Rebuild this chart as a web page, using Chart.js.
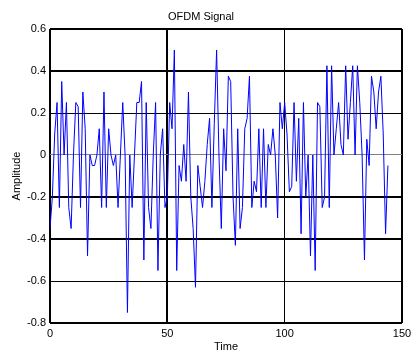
<!DOCTYPE html>
<html lang="en">
<head>
    <meta charset="UTF-8">
    <title>OFDM Signal</title>
    <script src="https://cdn.jsdelivr.net/npm/chart.js"></script>
    <style>
        body {
            margin: 0;
            padding: 0;
            background-color: #ffffff;
        }
        canvas {
            display: block;
        }
    </style>
</head>
<body>

<canvas id="grafico" width="411" height="351"></canvas>

<script>
    // Amplitud de la señal OFDM, una muestra por instante (t = 0..144)
    const amplitud = [
        -0.35, -0.2, 0.1, 0.25, -0.25, 0.35, 0, 0.25, -0.25, -0.35,
        0, 0.25, 0.23, -0.25, 0.3, 0.125, -0.48, 0, -0.05, -0.05,
        0, 0.125, -0.25, 0.3, -0.25, 0.125, 0, -0.05, 0, -0.25,
        0, 0.25, 0, -0.75, 0, -0.25, 0, 0.25, 0.25, 0.35,
        -0.5, 0.25, -0.25, -0.35, 0, 0.25, -0.55, 0, 0.125, -0.25,
        -0.2, 0.25, 0.125, 0.5, -0.55, -0.05, -0.125, 0.05, -0.125, 0.3,
        -0.2, -0.35, -0.63, -0.05, -0.15, -0.25, -0.125, 0.05, 0.175, -0.25,
        0.15, 0.5, 0, -0.35, 0.125, -0.075, 0.375, 0.35, -0.2, -0.43,
        0.125, -0.35, -0.25, 0.125, 0.175, 0.375, -0.25, -0.125, -0.175, 0.125,
        -0.25, 0.125, -0.25, 0.05, 0, 0.125, 0, -0.3, 0.25, 0.125,
        0.25, 0.1, -0.175, -0.15, 0.25, -0.125, 0.175, -0.375, 0.25, -0.2,
        0, -0.48, 0, -0.55, 0.25, 0.23, -0.25, -0.2, 0.425, -0.25,
        0.425, 0, 0.125, 0.25, 0.05, 0, 0.425, 0.075, 0.25, 0.425,
        0, 0.425, 0.25, 0, -0.5, 0.075, -0.05, 0.375, 0.3, 0.125,
        0.3, 0.375, 0.1, -0.375, -0.05
    ];
    const tiempo = amplitud.map((v, i) => i);

    const ticksX = [0, 50, 100, 150];
    const ticksY = [-0.8, -0.6, -0.4, -0.2, 0, 0.2, 0.4, 0.6];
    const lineasGruesasX = [0, 50, 150];
    const lineasGruesasY = [-0.8, -0.4, -0.2, 0.4, 0.6];

    const fuente = { family: 'Arial, "Liberation Sans", sans-serif', size: 11 };

    function esGruesa(lista, valor) {
        return lista.some(v => Math.abs(v - valor) < 1e-6);
    }

    const ctx = document.getElementById('grafico').getContext('2d');
    new Chart(ctx, {
        type: 'line',
        data: {
            labels: tiempo,
            datasets: [{
                data: amplitud.map((v, i) => ({ x: tiempo[i], y: v })),
                borderColor: '#0000ff',
                borderWidth: 1,
                pointRadius: 0,
                tension: 0,
                fill: false
            }]
        },
        options: {
            responsive: false,
            animation: false,
            layout: { padding: { top: 0, right: 9, left: 0, bottom: 0 } },
            plugins: {
                legend: { display: false },
                tooltip: { enabled: false },
                title: {
                    display: true,
                    text: 'OFDM Signal',
                    color: '#000000',
                    font: { family: fuente.family, size: 11, weight: 'normal' },
                    padding: { top: 10, bottom: 5.8 }
                }
            },
            scales: {
                x: {
                    type: 'linear',
                    min: 0,
                    max: 150,
                    afterBuildTicks: s => { s.ticks = ticksX.map(v => ({ value: v })); },
                    afterFit: s => { s.height = 28; s.paddingLeft = 0; s.paddingRight = 0; },
                    border: { display: false },
                    grid: {
                        drawTicks: false,
                        color: '#000000',
                        lineWidth: c => esGruesa(lineasGruesasX, c.tick.value) ? 2 : 1
                    },
                    ticks: { color: '#000000', font: fuente, padding: 4, maxRotation: 0 },
                    title: {
                        display: true,
                        text: 'Time',
                        color: '#000000',
                        font: { family: fuente.family, size: 11, lineHeight: 0.8 },
                        padding: { top: 0, bottom: 0 }
                    }
                },
                y: {
                    min: -0.8,
                    max: 0.6,
                    afterBuildTicks: s => { s.ticks = ticksY.map(v => ({ value: v })); },
                    afterFit: s => { s.width = 50; s.paddingTop = 0; s.paddingBottom = 0; },
                    border: { display: false },
                    grid: {
                        drawTicks: false,
                        color: c => Math.abs(c.tick.value) < 1e-6 ? '#808080' : '#000000',
                        lineWidth: c => esGruesa(lineasGruesasY, c.tick.value) ? 2 : 1
                    },
                    ticks: {
                        color: '#000000',
                        font: fuente,
                        padding: 4,
                        callback: v => Math.abs(v) < 1e-9 ? '0' : String(Math.round(v * 10) / 10)
                    },
                    title: {
                        display: true,
                        text: 'Amplitude',
                        color: '#000000',
                        font: { family: fuente.family, size: 11 },
                        padding: { top: 10, bottom: 0 }
                    }
                }
            }
        }
    });
</script>

</body>
</html>
